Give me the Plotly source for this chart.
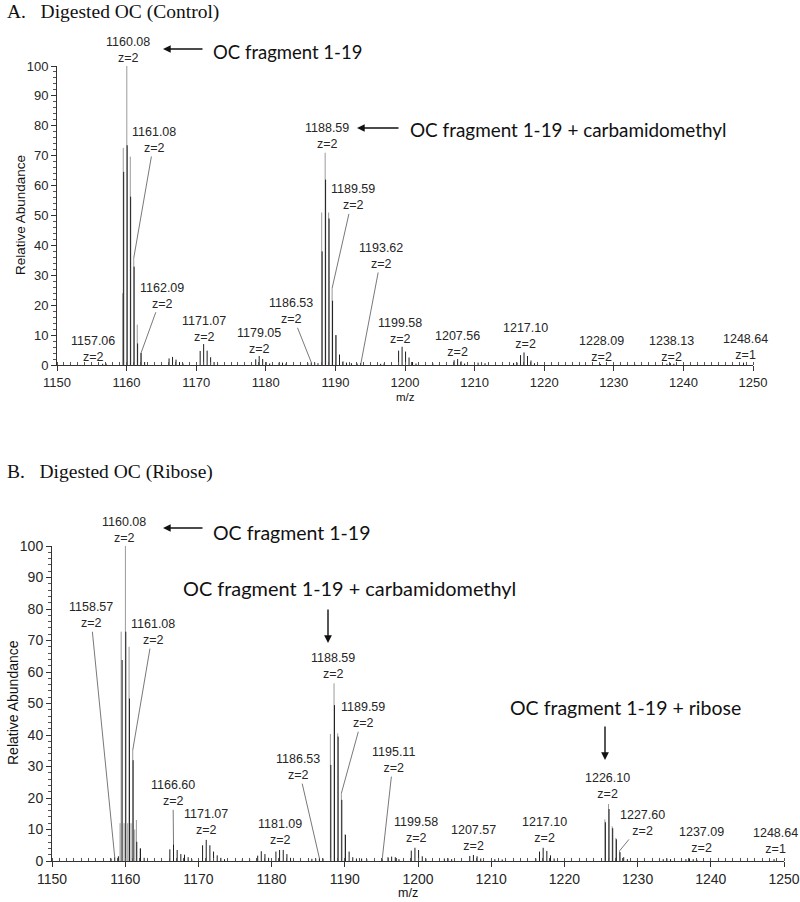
import plotly.graph_objects as go

# ---------------- data ----------------
# Panel A: Digested OC (Control) -- centroid (dark) sticks
a_mz = [1156.56, 1157.06, 1159.58, 1160.08, 1160.58, 1161.08, 1161.58, 1162.09, 1162.59,
        1166.10, 1166.60, 1167.10, 1167.60, 1168.10,
        1170.57, 1171.07, 1171.57, 1172.07, 1172.57, 1173.07,
        1178.55, 1179.05, 1179.55, 1180.05, 1180.55, 1181.90, 1182.40, 1182.90,
        1186.03, 1186.53, 1187.03, 1187.50,
        1188.09, 1188.59, 1189.09, 1189.59, 1190.09, 1190.59, 1191.09, 1191.59, 1192.30,
        1193.12, 1193.62, 1196.50, 1197.00,
        1199.08, 1199.58, 1200.08, 1200.58, 1201.08, 1201.58, 1204.00,
        1207.06, 1207.56, 1208.06, 1208.56, 1210.50, 1211.00, 1211.50,
        1215.60, 1216.10, 1216.60, 1217.10, 1217.60, 1218.10, 1218.60,
        1228.09, 1233.00, 1237.63, 1238.13, 1238.63, 1248.64]
a_int = [0.4, 0.5, 64.6, 73.5, 56.3, 32.9, 7.2, 4.1, 1.0,
         2.2, 2.7, 1.8, 1.0, 0.5,
         4.7, 7.0, 4.8, 2.6, 1.0, 0.5,
         1.9, 3.0, 2.0, 1.0, 0.5, 0.8, 0.8, 0.5,
         0.7, 0.9, 0.8, 0.6,
         38.0, 62.0, 49.0, 21.5, 10.0, 3.5, 1.2, 0.8, 0.6,
         0.5, 0.6, 0.4, 0.5,
         4.8, 6.1, 4.5, 2.5, 1.0, 0.5, 0.5,
         1.6, 2.0, 1.2, 0.5, 0.8, 0.8, 0.6,
         0.7, 0.8, 3.3, 4.2, 3.0, 1.5, 0.6,
         0.3, 0.3, 0.4, 0.6, 0.4, 0.8]
# Panel A profile (grey) sticks
a_prof_mz = [1159.42, 1159.52, 1160.03, 1160.53, 1161.03, 1161.53, 1162.03,
             1188.03, 1188.53, 1189.03, 1189.53, 1190.03]
a_prof_int = [24.0, 72.6, 100.0, 69.7, 35.8, 13.5, 4.0,
              51.0, 71.0, 51.0, 25.7, 10.0]

# Panel B: Digested OC (Ribose) -- centroid (dark) sticks
b_mz = [1158.07, 1158.57, 1159.07, 1159.58, 1160.08, 1160.58, 1161.08, 1161.58, 1162.09, 1162.59,
        1166.10, 1166.60, 1167.10, 1167.60, 1168.10, 1168.60, 1169.10,
        1170.57, 1171.07, 1171.57, 1172.07, 1172.57, 1173.07, 1173.57,
        1176.00, 1177.00, 1178.10, 1178.59, 1179.09, 1179.59,
        1180.59, 1181.09, 1181.59, 1182.09, 1182.59,
        1185.50, 1186.03, 1186.53, 1187.03,
        1188.09, 1188.59, 1189.09, 1189.59, 1190.09, 1190.59, 1191.09, 1191.59, 1192.30, 1193.00,
        1195.11, 1195.90, 1196.40, 1196.90, 1197.40,
        1199.08, 1199.58, 1200.08, 1200.58, 1201.08, 1203.60, 1204.10, 1204.60,
        1207.07, 1207.57, 1208.07, 1208.57, 1210.50, 1211.50,
        1216.10, 1216.60, 1217.10, 1217.60, 1218.10, 1218.60,
        1225.60, 1226.10, 1226.60, 1227.10, 1227.60, 1228.10, 1228.60,
        1233.50, 1234.00, 1234.50, 1236.60, 1237.09, 1237.60, 1238.10, 1248.64]
b_int = [0.8, 1.2, 1.5, 63.8, 72.8, 51.6, 32.0, 6.1, 4.0, 1.0,
         3.7, 5.3, 3.5, 2.2, 2.0, 1.2, 0.6,
         5.0, 6.7, 5.0, 3.0, 1.8, 1.0, 0.6,
         0.5, 0.6, 1.7, 3.1, 2.2, 1.0,
         3.0, 3.5, 3.5, 2.2, 1.0,
         0.7, 0.8, 0.9, 0.8,
         30.5, 49.5, 39.5, 19.4, 8.3, 3.0, 1.2, 0.8, 0.8, 0.6,
         0.6, 1.2, 1.4, 1.2, 0.6,
         3.3, 4.2, 3.5, 1.5, 0.8, 0.8, 0.9, 0.6,
         1.6, 1.9, 1.5, 0.8, 0.6, 0.5,
         0.8, 3.0, 4.2, 3.2, 1.8, 0.8,
         12.3, 16.5, 10.4, 6.9, 2.8, 1.2, 0.6,
         0.6, 0.8, 0.6, 0.6, 0.8, 0.6, 0.4, 0.6]
# Panel B profile (grey) sticks
b_prof_mz = [1159.30, 1159.45, 1159.85, 1160.03, 1160.35, 1160.53, 1160.80, 1161.03, 1161.30, 1161.53, 1162.03,
             1188.03, 1188.53, 1189.03, 1189.53, 1190.03,
             1225.53, 1226.03, 1226.53, 1227.03, 1227.53]
b_prof_int = [12.0, 72.8, 12.0, 100.0, 12.0, 68.0, 12.0, 35.2, 10.0, 13.0, 4.0,
              40.3, 56.4, 40.5, 21.5, 8.5,
              13.2, 18.1, 11.0, 7.3, 3.2]

# Peak labels (m/z anchor, anchor intensity, label text)
a_lab_mz = [1160.03, 1161.03, 1162.09, 1157.06, 1171.07, 1179.05, 1186.53, 1188.53,
            1189.53, 1193.62, 1199.58, 1207.56, 1217.10, 1228.09, 1238.13, 1248.64]
a_lab_int = [100.0, 35.8, 4.1, 0.5, 7.0, 3.0, 0.9, 71.0,
             25.7, 0.0, 6.1, 2.0, 4.2, 0.3, 0.6, 0.8]
a_lab_txt = ["1160.08<br>z=2", "1161.08<br>z=2", "1162.09<br>z=2", "1157.06<br>z=2",
             "1171.07<br>z=2", "1179.05<br>z=2", "1186.53<br>z=2", "1188.59<br>z=2",
             "1189.59<br>z=2", "1193.62<br>z=2", "1199.58<br>z=2", "1207.56<br>z=2",
             "1217.10<br>z=2", "1228.09<br>z=2", "1238.13<br>z=2", "1248.64<br>z=1"]

b_lab_mz = [1160.03, 1158.57, 1161.03, 1166.60, 1171.07, 1181.09, 1186.53, 1188.53, 1189.53,
            1195.11, 1199.58, 1207.57, 1217.10, 1226.03, 1227.53, 1237.09, 1248.64]
b_lab_int = [100.0, 1.2, 35.2, 5.3, 6.7, 3.5, 0.9, 56.4, 21.5,
             0.6, 4.2, 1.9, 4.2, 18.1, 3.2, 0.8, 0.6]
b_lab_txt = ["1160.08<br>z=2", "1158.57<br>z=2", "1161.08<br>z=2", "1166.60<br>z=2",
             "1171.07<br>z=2", "1181.09<br>z=2", "1186.53<br>z=2", "1188.59<br>z=2",
             "1189.59<br>z=2", "1195.11<br>z=2", "1199.58<br>z=2", "1207.57<br>z=2",
             "1217.10<br>z=2", "1226.10<br>z=2", "1227.60<br>z=2", "1237.09<br>z=2",
             "1248.64<br>z=1"]

x_ticks = [1150, 1160, 1170, 1180, 1190, 1200, 1210, 1220, 1230, 1240, 1250]
y_ticks = [0, 10, 20, 30, 40, 50, 60, 70, 80, 90, 100]

# ---------------- layout helpers (positions / styles) ----------------
W, H = 800, 902


def px(x):
    return x / W


def py(y):
    return 1 - y / H


# label offsets (pixels, text centre relative to anchor) and leader flag
a_lab_off = [(1, -16, False), (20.5, -118, True), (20.6, -57, True), (-13, -15, False),
             (0, -15.5, False), (0, -15.5, False), (-20.3, -51, True), (1.4, -16.7, False),
             (20.5, -90.7, True), (20.7, -109, True), (-2, -16, False), (0, -15.5, False),
             (1, -16.4, False), (0.5, -15.5, False), (1.6, -14.5, False), (1.5, -15.6, False)]
b_lab_off = [(-1.6, -16, False), (-24, -242, True), (20, -118, True), (-0.5, -51, True),
             (0, -18, False), (0, -18, False), (-21, -91, True), (-1, -17, False),
             (21.5, -78, True), (11, -99, True), (1, -18, False), (0, -17, False),
             (1, -18, False), (-1, -18, False), (23, -28, True), (11.7, -18.5, False),
             (1.4, -18, False)]

DARK = "#1e1e1e"
GREY = "#9a9a9a"
TXT = "#262626"
SANS = "Liberation Sans, Arial, sans-serif"
CAL = "Lato, Open Sans, sans-serif"
SERIF = "Liberation Serif, Times New Roman, serif"


def sticks(mz, inten):
    xs, ys = [], []
    for m, v in zip(mz, inten):
        xs += [m, m, None]
        ys += [0, v, None]
    return xs, ys


fig = go.Figure()
for (mz, it, col, xa, ya) in [
    (a_prof_mz, a_prof_int, GREY, "x", "y"),
    (a_mz, a_int, DARK, "x", "y"),
    (b_prof_mz, b_prof_int, GREY, "x2", "y2"),
    (b_mz, b_int, DARK, "x2", "y2"),
]:
    xs, ys = sticks(mz, it)
    fig.add_trace(go.Scatter(x=xs, y=ys, mode="lines", xaxis=xa, yaxis=ya,
                             line=dict(color=col, width=1), hoverinfo="skip",
                             showlegend=False))


def xaxis_cfg(dom, anchor, fs):
    return dict(domain=dom, anchor=anchor, range=[1150, 1250], tickvals=x_ticks,
                ticktext=[str(t) for t in x_ticks], showgrid=False, zeroline=False,
                automargin=False,
                showline=True, linecolor="#333", linewidth=1, ticks="outside",
                ticklen=5, tickwidth=1, tickcolor="#333",
                minor=dict(dtick=1, tick0=1150, ticks="inside", ticklen=3,
                           tickcolor="#555", tickwidth=1, showgrid=False),
                tickfont=dict(family=SANS, size=fs, color=TXT))


def yaxis_cfg(dom, anchor, fs):
    return dict(domain=dom, anchor=anchor, range=[0, 100], tickvals=y_ticks,
                showgrid=False, zeroline=False, showline=True, linecolor="#333",
                automargin=False,
                linewidth=1, ticks="outside", ticklen=5, tickwidth=1, tickcolor="#333",
                minor=dict(dtick=2, tick0=0, ticks="outside", ticklen=3,
                           tickcolor="#555", tickwidth=1, showgrid=False),
                tickfont=dict(family=SANS, size=fs, color=TXT))


# page-pixel frames: A x 57..753, y 66..365 ; B x 52..784, y 546..861
A_X = (57, 753)
A_Y = (66, 365)
B_X = (52, 784)
B_Y = (546, 861)

anns = []


def add_labels(mzs, ints, txts, offs, xr, yr):
    for m, v, t, (dx, dy, lead) in zip(mzs, ints, txts, offs):
        if lead:
            anns.append(dict(x=m, y=v, xref=xr, yref=yr, text=t, showarrow=True,
                             arrowhead=0, arrowwidth=0.8, arrowcolor="#555",
                             ax=dx, ay=dy, axref="pixel", ayref="pixel",
                             font=dict(family=SANS, size=12.5, color=TXT), align="center"))
        else:
            anns.append(dict(x=m, y=v, xref=xr, yref=yr, text=t, showarrow=False,
                             xanchor="center", yanchor="middle", xshift=dx, yshift=-dy,
                             font=dict(family=SANS, size=12.5, color=TXT), align="center"))


add_labels(a_lab_mz, a_lab_int, a_lab_txt, a_lab_off, "x", "y")
add_labels(b_lab_mz, b_lab_int, b_lab_txt, b_lab_off, "x2", "y2")


def ptext(x, y, text, size, family=CAL, anchor="left", angle=0):
    anns.append(dict(x=px(x), y=py(y), xref="paper", yref="paper", text=text,
                     showarrow=False, xanchor=anchor, yanchor="middle", textangle=angle,
                     font=dict(family=family, size=size, color="#111")))


def parrow(x0, y0, x1, y1):
    # arrow from (x0,y0) to head at (x1,y1), pixels
    anns.append(dict(x=px(x1), y=py(y1), xref="paper", yref="paper",
                     ax=x0 - x1, ay=y0 - y1, axref="pixel", ayref="pixel", text="",
                     showarrow=True, arrowhead=2, arrowsize=1.1, arrowwidth=1.4,
                     arrowcolor="#111"))


# panel titles
ptext(5, 12, "A.&nbsp;&nbsp;&nbsp;Digested OC (Control)", 19.5, SERIF)
ptext(5, 472, "B.&nbsp;&nbsp;&nbsp;Digested OC (Ribose)", 19.5, SERIF)

# callouts panel A
ptext(211, 52, "OC fragment 1-19", 18.5)
parrow(204, 49, 163, 49)
ptext(408, 129, "OC fragment 1-19 + carbamidomethyl", 18.9)
parrow(400, 128, 357, 128)

# callouts panel B
ptext(211, 532, "OC fragment 1-19", 19.5)
parrow(204, 528, 163, 528)
ptext(181, 588, "OC fragment 1-19 + carbamidomethyl", 19.9)
parrow(328, 608, 328, 643)
ptext(508, 707, "OC fragment 1-19 + ribose", 19.5)
parrow(605, 725, 605, 760)

# axis titles
ptext(405, 397, "m/z", 11.5, SANS, "center")
ptext(408, 893, "m/z", 12.5, SANS, "center")
ptext(20, 215, "Relative Abundance", 13.5, SANS, "center", -90)
ptext(13, 703, "Relative Abundance", 14, SANS, "center", -90)

fig.update_layout(
    width=W, height=H, margin=dict(l=0, r=0, t=0, b=0, autoexpand=False),
    paper_bgcolor="white", plot_bgcolor="white", showlegend=False,
    xaxis=xaxis_cfg([px(A_X[0]), px(A_X[1])], "y", 13),
    yaxis=yaxis_cfg([py(A_Y[1]), py(A_Y[0])], "x", 13),
    xaxis2=xaxis_cfg([px(B_X[0]), px(B_X[1])], "y2", 14),
    yaxis2=yaxis_cfg([py(B_Y[1]), py(B_Y[0])], "x2", 14),
    annotations=anns,
)

# remove the browser's default page margin so the 800x902 figure fills the window
fig.write_html(
    "out.html",
    config={"displayModeBar": False},
    post_script="document.body.style.margin='0';"
                "document.documentElement.style.overflow='hidden';"
                "document.body.style.overflow='hidden';",
)
